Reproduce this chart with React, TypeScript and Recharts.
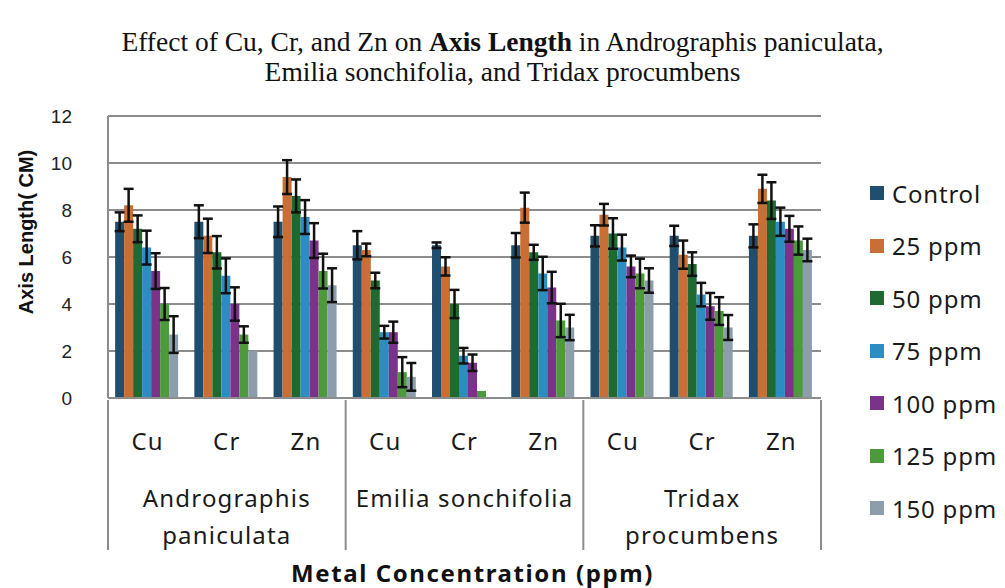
import React from 'react';
import { BarChart, Bar, XAxis, YAxis, CartesianGrid, Legend, ErrorBar, Label } from 'recharts';

const metals = ['Cu', 'Cr', 'Zn', 'Cu', 'Cr', 'Zn', 'Cu', 'Cr', 'Zn'];
const speciesLabels = [['Andrographis', 'paniculata'], ['Emilia sonchifolia'], ['Tridax', 'procumbens']];
const yTicks = [0, 2, 4, 6, 8, 10, 12];

const seriesNames = ['Control', '25 ppm', '50 ppm', '75 ppm', '100 ppm', '125 ppm', '150 ppm'];
const seriesColors = ['#1f4e6e', '#c96f35', '#1e6a30', '#2b8dc2', '#7b3389', '#4d9a3c', '#8c9dac'];

const control = [7.5, 7.5, 7.5, 6.5, 6.5, 6.5, 6.9, 6.9, 6.9];
const ppm25 = [8.2, 6.9, 9.4, 6.3, 5.6, 8.1, 7.8, 6.1, 8.9];
const ppm50 = [7.2, 6.2, 8.6, 5.0, 4.0, 6.2, 7.0, 5.7, 8.4];
const ppm75 = [6.4, 5.2, 7.7, 2.8, 1.8, 5.3, 6.4, 4.4, 7.5];
const ppm100 = [5.4, 4.0, 6.7, 2.8, 1.5, 4.7, 5.6, 3.9, 7.2];
const ppm125 = [4.0, 2.7, 5.4, 1.1, 0.3, 3.3, 5.3, 3.7, 6.7];
const ppm150 = [2.7, 2.0, 4.8, 0.9, 0, 3.0, 5.0, 3.0, 6.3];

const errControl = [0.4, 0.7, 0.65, 0.6, 0.12, 0.52, 0.45, 0.43, 0.49];
const err25 = [0.7, 0.73, 0.72, 0.27, 0.39, 0.64, 0.46, 0.6, 0.6];
const err50 = [0.57, 0.69, 0.7, 0.33, 0.6, 0.32, 0.65, 0.5, 0.78];
const err75 = [0.72, 0.74, 0.72, 0.27, 0.33, 0.71, 0.55, 0.5, 0.6];
const err100 = [0.76, 0.71, 0.74, 0.45, 0.35, 0.67, 0.46, 0.57, 0.55];
const err125 = [0.68, 0.35, 0.74, 0.64, 0, 0.71, 0.63, 0.59, 0.6];
const err150 = [0.78, 0, 0.72, 0.59, 0, 0.54, 0.52, 0.53, 0.48];

const values = [control, ppm25, ppm50, ppm75, ppm100, ppm125, ppm150];
const errors = [errControl, err25, err50, err75, err100, err125, err150];

const data = metals.map((metal, i) => {
  const row: Record<string, any> = { metal };
  seriesNames.forEach((name, s) => {
    row['v' + s] = values[s][i];
    row['e' + s] = errors[s][i];
  });
  return row;
});

const GRID = '#8c8c8c';
const SANS = '"Noto Sans", sans-serif';

function MetalTick(props: any) {
  const { x, y, payload, index } = props;
  const i = index ?? payload.index;
  const half = payload.offset || 39.6;
  const group = Math.floor(i / 3);
  const textStyle = { fontFamily: SANS, fontSize: 24, fill: '#1a1a1a', letterSpacing: 1.2 };
  return (
    <g>
      <text x={x} y={y + 40} textAnchor="middle" dominantBaseline="central" {...textStyle}>
        {payload.value}
      </text>
      {i % 3 === 1 &&
        speciesLabels[group].map((line, k) => (
          <text key={k} x={x} y={y + 97 + k * 37} textAnchor="middle" dominantBaseline="central" {...textStyle}>
            {line}
          </text>
        ))}
      {i % 3 === 0 && <line x1={x - half} x2={x - half} y1={y} y2={y + 150} stroke={GRID} strokeWidth={2} />}
      {i === metals.length - 1 && <line x1={x + half} x2={x + half} y1={y} y2={y + 150} stroke={GRID} strokeWidth={2} />}
    </g>
  );
}

function LegendList(props: any) {
  const items = [...(props.payload || [])].sort(
    (a: any, b: any) => seriesNames.indexOf(a.value) - seriesNames.indexOf(b.value)
  );
  return (
    <div>
      {items.map((entry: any, i: number) => (
        <div key={i} style={{ display: 'flex', alignItems: 'center', height: 52.5 }}>
          <span style={{ width: 14, height: 14, background: entry.color, display: 'inline-block', marginRight: 8 }} />
          <span style={{ fontFamily: SANS, fontSize: 24, letterSpacing: 0.8, color: '#1a1a1a' }}>{entry.value}</span>
        </div>
      ))}
    </div>
  );
}

export default function App() {
  return (
    <div style={{ position: 'absolute', left: 0, top: 0, width: 1005, height: 588, background: '#fff' }}>
      <div style={{ position: 'absolute', left: 0, width: 1005, top: 27, textAlign: 'center', fontFamily: '"Liberation Serif", serif', fontSize: 27.5, lineHeight: '30px', color: '#111' }}>
        <div>
          Effect of Cu, Cr, and Zn on <b>Axis Length</b> in Andrographis paniculata,
        </div>
        <div>Emilia sonchifolia, and Tridax procumbens</div>
      </div>
      <div style={{ position: 'absolute', left: 0, top: 0 }}>
        <BarChart
          width={1005}
          height={588}
          data={data}
          margin={{ top: 116, right: 184, left: 8, bottom: 40 }}
          barCategoryGap="9%"
          barGap={0}
        >
          <CartesianGrid vertical={false} stroke={GRID} strokeWidth={2} />
          <XAxis
            dataKey="metal"
            interval={0}
            height={150}
            tickSize={0}
            tickLine={false}
            axisLine={{ stroke: GRID, strokeWidth: 2 }}
            tick={<MetalTick />}
          />
          <YAxis
            domain={[0, 12]}
            ticks={yTicks}
            width={100}
            tickLine={false}
            tickMargin={30}
            axisLine={{ stroke: GRID, strokeWidth: 2 }}
            tick={{ fontFamily: '"Liberation Sans", sans-serif', fontSize: 19, fill: '#222' }}
          >
            <Label
              content={() => (
                <text
                  x={26}
                  y={232}
                  transform="rotate(-90, 26, 232)"
                  textAnchor="middle"
                  dominantBaseline="central"
                  fontFamily='"Liberation Sans", sans-serif'
                  fontWeight="bold"
                  fontSize={20}
                  fill="#111"
                >
                  Axis Length( CM)
                </text>
              )}
            />
          </YAxis>
          <Legend
            layout="vertical"
            align="center"
            verticalAlign="middle"
            content={<LegendList />}
            wrapperStyle={{ left: 870, top: 167, width: 135 }}
          />
          {seriesNames.map((name, s) => (
            <Bar key={name} name={name} dataKey={'v' + s} fill={seriesColors[s]} isAnimationActive={false}>
              <ErrorBar dataKey={'e' + s} width={5} stroke="#111" strokeWidth={2.5} />
            </Bar>
          ))}
        </BarChart>
      </div>
      <div style={{ position: 'absolute', left: 287, width: 371, top: 558, textAlign: 'center', whiteSpace: 'nowrap', fontFamily: SANS, fontWeight: 'bold', fontSize: 24, letterSpacing: 1.6, lineHeight: '30px', color: '#111' }}>
        Metal Concentration (ppm)
      </div>
    </div>
  );
}
